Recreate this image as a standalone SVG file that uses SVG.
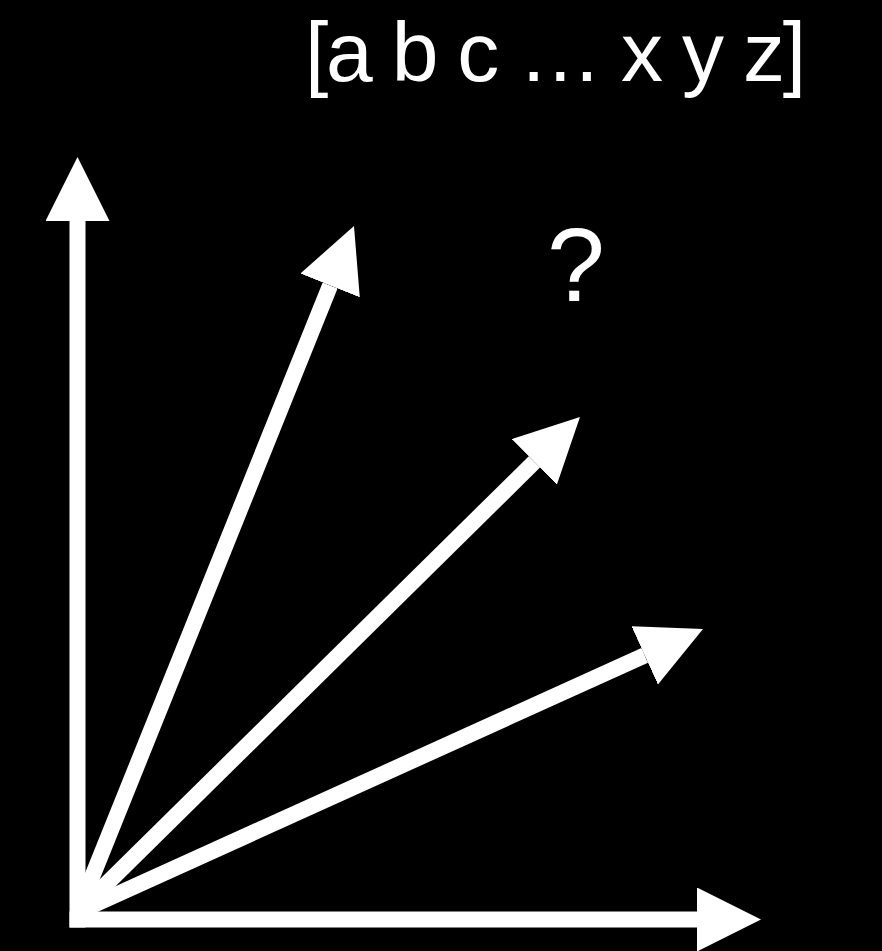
<svg xmlns="http://www.w3.org/2000/svg" width="882" height="951" viewBox="0 0 882 951">
<style>
.txt{fill:#fff;font-family:"Liberation Sans",Arial,sans-serif}
.shaft{stroke:#fff;stroke-width:16;fill:none}
</style>
<defs>
<marker id="head" markerUnits="userSpaceOnUse" markerWidth="64" markerHeight="64" viewBox="0 0 64 64" refX="0" refY="32" orient="auto">
<path d="M0,0 L64,32 L0,64 Z" fill="#fff"/>
</marker>
</defs>
<rect width="882" height="951" fill="#000"/>
<g id="connectors">
<line class="shaft" x1="77.5" y1="927.5" x2="77.5" y2="221" marker-end="url(#head)"/>
<line class="shaft" x1="69.5" y1="919.5" x2="697" y2="919.5" marker-end="url(#head)"/>
<line class="shaft" x1="78" y1="912" x2="330.1" y2="285.4" marker-end="url(#head)"/>
<line class="shaft" x1="78" y1="912" x2="534.4" y2="461.9" marker-end="url(#head)"/>
<line class="shaft" x1="78" y1="912" x2="644.7" y2="655.4" marker-end="url(#head)"/>
</g>
<g id="label-set">
<text class="txt" x="305" y="81" font-size="84" textLength="501" lengthAdjust="spacing">[a b c … x y z]</text>
</g>
<g id="label-q">
<text class="txt" x="576" y="301" font-size="104" text-anchor="middle">?</text>
</g>
</svg>
